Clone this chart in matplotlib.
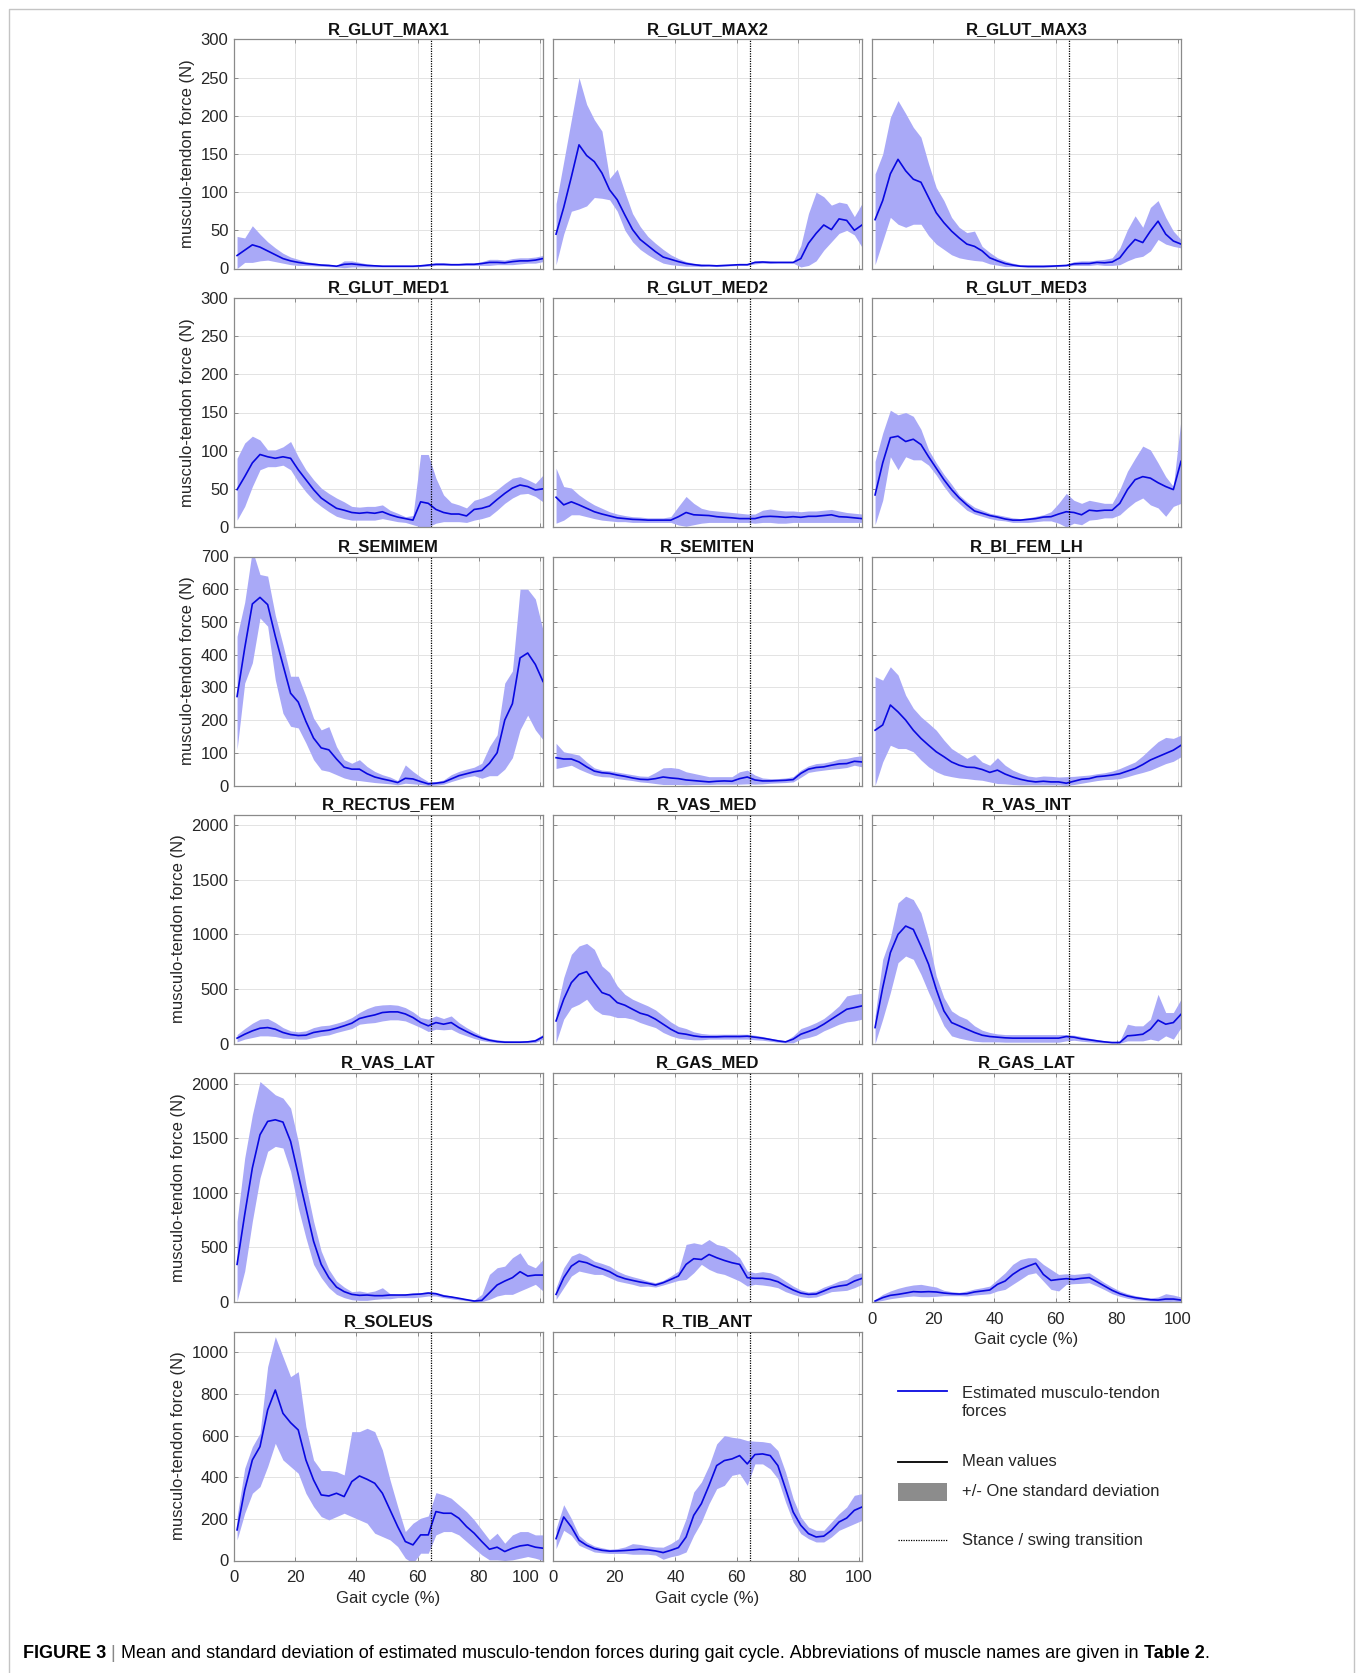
import matplotlib
matplotlib.use('Agg')
import matplotlib.pyplot as plt
from matplotlib.lines import Line2D
from matplotlib.patches import Rectangle

plt.rcParams['font.family'] = ['Liberation Sans', 'DejaVu Sans']

# gait cycle sample points (%)
X = [1, 3.5, 6, 8.5, 11, 13.5, 16, 18.5, 21, 23.5, 26, 28.5, 31, 33.5, 36, 38.5, 41,
     43.5, 46, 48.5, 51, 53.5, 56, 58.5, 61, 63.5, 66, 68.5, 71, 73.5, 76, 78.5, 81,
     83.5, 86, 88.5, 91, 93.5, 96, 98.5, 101]
STANCE_SWING = 64.5

# ---- data: mean, mean+SD, mean-SD (N) ----
GLUT_MAX1_M = [17, 24, 31, 28, 23, 18, 13, 10, 8, 6.5, 5.5, 4.5, 4, 3, 5.5, 6, 5, 4, 3.5, 3,
               3, 3, 3, 3, 3.5, 4.5, 5.5, 5.5, 5, 5, 5.5, 5.5, 6.5, 8, 8, 7.5, 9, 10, 10, 11, 13]
GLUT_MAX1_U = [42, 40, 56, 45, 35, 27, 20, 15, 12, 9, 7.5, 6, 5.5, 4, 10, 10, 8, 6, 5, 4,
               4, 4, 4, 4, 4.5, 6, 7, 7, 6.5, 6.5, 7, 7, 9, 12, 12, 11, 13, 14, 14, 15, 17]
GLUT_MAX1_L = [0, 8, 8, 10, 11, 9, 7, 5, 4, 4, 3.5, 3, 2.5, 2, 1, 2, 2, 2, 2, 2,
               2, 2, 2, 2, 2.5, 3, 4, 4, 4, 4, 4, 4, 4, 4, 5, 5, 5, 6, 7, 7, 9]

GLUT_MAX2_M = [45, 80, 120, 162, 148, 140, 125, 103, 90, 70, 51, 38, 30, 22, 15, 12, 9, 6.5, 5, 4,
               4, 3.5, 4, 4.5, 5, 5, 8, 8.5, 8, 8, 8, 8, 13, 33, 46, 57, 51, 65, 63, 50, 57]
GLUT_MAX2_U = [85, 140, 195, 250, 215, 195, 180, 118, 130, 100, 72, 55, 42, 33, 25, 18, 13, 9, 7, 5.5,
               5, 4.5, 5, 5.5, 6, 6, 10, 10, 9.5, 9, 9, 9, 30, 72, 100, 94, 83, 87, 85, 68, 85]
GLUT_MAX2_L = [5, 45, 75, 78, 82, 93, 92, 90, 75, 50, 35, 25, 18, 12, 7, 5, 4, 3, 3, 2.5,
               3, 2.5, 3, 3.5, 4, 4, 6, 7, 6.5, 7, 7, 7, 2, 4, 10, 24, 35, 46, 50, 44, 28]

GLUT_MAX3_M = [64, 89, 124, 143, 128, 117, 113, 93, 73, 60, 49, 40, 32, 29, 23, 14, 10, 6.5, 4.5, 3,
               2.6, 2.6, 2.6, 3, 3.5, 4, 6, 6.5, 6.5, 8, 7.5, 8.5, 14, 27, 38, 34, 49, 62, 45, 36, 32]
GLUT_MAX3_U = [124, 150, 198, 220, 203, 185, 172, 137, 106, 89, 67, 54, 47, 49, 29, 21, 14, 10, 7, 5,
               5, 5, 5, 5, 5, 5, 9, 10, 10, 11, 12, 14, 27, 51, 69, 54, 80, 89, 67, 49, 38]
GLUT_MAX3_L = [5, 36, 67, 58, 54, 58, 58, 43, 32, 25, 18, 14, 12, 10.5, 9.6, 6, 4.4, 2.5, 2.5, 2.5,
               2, 2, 2, 2, 2.5, 3, 4, 4, 4, 5, 4, 4, 5, 10, 14, 16, 23, 38, 32, 29, 27]

GLUT_MED1_M = [49, 66, 84, 95, 92, 90, 92, 90, 75, 62, 49, 38, 31, 24.5, 22, 19, 18, 19, 18, 20,
               16, 13, 11, 9, 33, 31, 23, 19, 17, 17, 14.5, 23, 24.5, 27.5, 36, 44, 51, 55, 53, 48.5, 50]
GLUT_MED1_U = [90, 110, 119, 114, 101, 101, 105, 112, 92, 75, 62, 51, 44, 38, 33, 27, 26, 27, 27, 29,
               22, 18, 13.5, 15, 95, 95, 64, 42, 32, 29, 25, 35, 38, 42, 49, 57, 64, 66, 62, 57, 68]
GLUT_MED1_L = [9, 27, 53, 75, 79, 79, 81, 75, 59, 46, 35, 27, 20, 14, 11, 9, 9, 9, 9, 11,
               9, 7, 6, 3, 0, 0, 5, 7, 7, 7, 6, 9, 11, 14, 22, 31, 38, 43, 44, 40, 33]

GLUT_MED2_M = [39, 29, 33, 29, 24.5, 20, 17, 14.5, 12, 11, 10, 9.6, 9, 9, 9, 9, 13.5, 19, 16, 15.5,
               15, 13.5, 12.7, 12, 11, 11, 11, 13.5, 14, 13.5, 12.7, 13.5, 12.7, 14, 14, 15, 16, 13.5, 13, 12, 11]
GLUT_MED2_U = [77, 53, 51, 42, 35, 29, 24.5, 20, 17, 15, 13.5, 13, 12, 12, 12, 13.5, 27, 40, 31, 24.5,
               22, 21, 20, 19, 18, 17, 17, 22, 23.6, 22, 21, 21, 20, 21, 21, 22, 23, 21, 19, 18, 17]
GLUT_MED2_L = [5, 9, 16, 16, 13.5, 11, 9, 8, 7, 7, 6, 6, 6, 6, 6, 6, 2.6, 1, 3, 5,
               6, 6, 6, 6, 6, 6, 5, 6, 6, 5, 5, 6, 6, 6, 6, 6, 6, 6, 6, 6, 6]

GLUT_MED3_M = [42, 84, 117, 119, 112, 115, 108, 92, 77, 62, 49, 38, 29, 21, 18, 15, 13, 10.5, 9, 9,
               10, 11, 13, 13.5, 17, 20, 19, 16, 22, 21, 22, 22, 31, 49, 62, 66, 64, 58, 53, 49, 86]
GLUT_MED3_U = [86, 123, 153, 147, 150, 145, 128, 101, 84, 69, 56, 42, 33, 26, 22, 18, 16, 14, 12, 11,
               12, 14, 16, 20, 31, 44, 35, 31, 35, 33, 31, 31, 49, 73, 90, 106, 101, 84, 66, 53, 141]
GLUT_MED3_L = [3, 35, 92, 75, 92, 88, 88, 81, 68, 53, 40, 31, 22, 17, 14, 11, 9, 8, 6, 6,
               6, 7, 8, 8, 5, 0, 5, 3, 9, 10, 12, 12, 16, 25, 33, 38, 29, 25, 14, 27, 31]

SEMIMEM_M = [272, 420, 555, 575, 553, 456, 369, 282, 255, 196, 145, 115, 109, 81, 56, 50, 50, 36, 26, 20,
             15, 9, 22, 20, 12, 5, 7, 10, 20, 30, 36, 42, 46, 68, 100, 200, 250, 390, 405, 370, 318]
SEMIMEM_U = [456, 560, 720, 645, 640, 520, 430, 334, 334, 273, 206, 170, 180, 119, 79, 68, 79, 58, 43, 33,
             26, 15, 63, 43, 26, 12, 12, 17, 33, 43, 50, 56, 68, 119, 155, 313, 350, 600, 600, 570, 475]
SEMIMEM_L = [110, 313, 375, 512, 487, 323, 221, 181, 176, 130, 79, 48, 43, 33, 23, 17, 15, 12, 9, 7,
             5, 2, 7, 5, 3, 0, 1, 4, 12, 19, 26, 30, 22, 30, 30, 50, 85, 170, 215, 170, 140]

SEMITEN_M = [85, 81, 81, 72, 57, 44, 39, 37, 32, 28, 23, 19, 18, 21, 26, 23, 21, 17, 15, 13,
             11, 13, 14, 13, 21, 26, 17, 14, 14, 15, 16, 18, 37, 50, 55, 57, 62, 66, 67, 74, 72]
SEMITEN_U = [129, 103, 98, 93, 72, 54, 47, 45, 41, 37, 33, 29, 28, 40, 54, 55, 52, 42, 37, 32,
             27, 27, 27, 27, 42, 47, 32, 23, 21, 21, 23, 27, 47, 60, 67, 69, 74, 81, 83, 88, 91]
SEMITEN_L = [52, 57, 62, 50, 40, 31, 27, 26, 21, 18, 15, 11, 9, 6, 3, 3, 3, 2, 3, 3,
             3, 4, 4, 4, 4, 5, 4, 5, 7, 8, 9, 11, 25, 40, 44, 47, 50, 52, 55, 62, 57]

BI_FEM_LH_M = [169, 185, 246, 225, 200, 169, 144, 123, 103, 88, 72, 62, 56, 55, 49, 40, 47, 35, 26, 19,
               14, 11, 13, 11, 11, 7, 13, 19, 21, 27, 29, 32, 36, 44, 52, 64, 78, 88, 98, 108, 123]
BI_FEM_LH_U = [333, 322, 363, 338, 276, 236, 210, 190, 169, 139, 113, 98, 83, 95, 72, 62, 85, 62, 47, 37,
               29, 26, 29, 28, 26, 27, 28, 30, 32, 36, 39, 44, 52, 62, 72, 91, 113, 134, 147, 144, 154]
BI_FEM_LH_L = [0, 72, 123, 113, 113, 103, 78, 57, 42, 32, 27, 23, 21, 18, 16, 11, 6, 5, 3, 2,
               2, 2, 2, 2, 2, 0, 3, 7, 11, 15, 18, 19, 21, 27, 34, 40, 47, 57, 67, 74, 88]

RECTUS_FEM_M = [49, 85, 116, 140, 146, 131, 101, 82, 73, 76, 101, 113, 122, 140, 162, 186, 229, 247, 262, 284,
                290, 290, 271, 238, 192, 162, 192, 177, 192, 146, 110, 76, 49, 30, 18, 12, 12, 12, 15, 24, 61]
RECTUS_FEM_U = [82, 137, 186, 223, 229, 192, 146, 116, 107, 116, 146, 162, 168, 186, 207, 238, 284, 320, 345, 354,
                357, 351, 329, 290, 238, 223, 253, 229, 253, 192, 146, 107, 70, 46, 34, 27, 24, 24, 24, 40, 85]
RECTUS_FEM_L = [15, 40, 55, 70, 70, 64, 49, 46, 40, 40, 55, 70, 79, 101, 119, 137, 177, 186, 192, 207,
                217, 217, 207, 177, 146, 110, 131, 125, 131, 95, 70, 46, 27, 15, 9, 6, 6, 6, 6, 9, 40]

VAS_MED_M = [207, 406, 558, 634, 659, 558, 467, 442, 375, 351, 314, 278, 259, 223, 177, 131, 95, 85, 70, 61,
             61, 61, 64, 64, 64, 67, 58, 49, 37, 24, 15, 40, 85, 110, 137, 177, 223, 268, 314, 329, 345]
VAS_MED_U = [284, 604, 817, 894, 918, 863, 711, 650, 528, 451, 406, 375, 345, 308, 253, 198, 156, 137, 107, 92,
             85, 85, 85, 85, 85, 85, 76, 64, 49, 37, 24, 70, 137, 162, 192, 229, 284, 345, 436, 451, 461]
VAS_MED_L = [10, 223, 329, 360, 406, 314, 268, 259, 238, 238, 223, 192, 168, 146, 101, 70, 49, 40, 34, 34,
             40, 40, 40, 40, 40, 40, 34, 30, 21, 12, 6, 6, 40, 55, 76, 116, 146, 177, 198, 207, 223]

VAS_INT_M = [146, 512, 833, 1000, 1077, 1046, 894, 726, 497, 299, 192, 162, 131, 101, 76, 64, 58, 52, 49, 49,
             49, 49, 49, 49, 49, 64, 58, 43, 34, 24, 15, 9, 9, 70, 76, 85, 131, 214, 177, 192, 268]
VAS_INT_U = [253, 772, 970, 1290, 1351, 1320, 1198, 955, 619, 421, 299, 253, 223, 162, 122, 101, 88, 82, 82, 82,
             82, 82, 82, 82, 82, 82, 76, 64, 49, 37, 24, 15, 24, 177, 162, 162, 223, 451, 284, 284, 406]
VAS_INT_L = [0, 223, 467, 741, 802, 772, 634, 467, 314, 162, 70, 49, 34, 21, 15, 15, 15, 12, 12, 12,
             12, 12, 12, 12, 12, 24, 30, 21, 15, 9, 6, 3, 3, 24, 24, 24, 40, 24, 70, 40, 146]

VAS_LAT_M = [345, 802, 1229, 1534, 1656, 1671, 1650, 1473, 1168, 863, 558, 345, 223, 137, 95, 70, 61, 64, 58, 58,
             64, 64, 64, 70, 73, 82, 76, 55, 46, 34, 21, 9, 15, 85, 156, 192, 223, 278, 238, 247, 247]
VAS_LAT_U = [741, 1321, 1717, 2022, 1961, 1900, 1870, 1778, 1473, 1077, 741, 467, 299, 192, 137, 95, 101, 88, 101, 131,
             76, 70, 76, 82, 85, 95, 88, 70, 55, 40, 27, 18, 70, 253, 314, 329, 406, 451, 345, 314, 390]
VAS_LAT_L = [6, 284, 741, 1138, 1382, 1427, 1412, 1199, 863, 589, 345, 223, 131, 70, 40, 21, 15, 15, 24, 30,
             30, 40, 40, 40, 46, 55, 55, 40, 30, 21, 12, 3, 3, 24, 55, 70, 70, 101, 131, 162, 101]

GAS_MED_M = [70, 223, 329, 375, 360, 329, 305, 278, 238, 214, 198, 183, 171, 156, 177, 207, 238, 345, 397, 390,
             436, 406, 381, 360, 345, 223, 217, 217, 207, 186, 146, 110, 82, 70, 73, 101, 131, 146, 156, 192, 217]
GAS_MED_U = [131, 314, 421, 451, 421, 375, 354, 329, 284, 253, 232, 214, 192, 177, 198, 238, 284, 528, 543, 528,
             573, 528, 512, 467, 406, 284, 268, 278, 268, 238, 192, 146, 110, 92, 101, 137, 162, 192, 207, 253, 268]
GAS_MED_L = [24, 131, 238, 284, 268, 253, 253, 223, 192, 177, 162, 143, 146, 137, 156, 177, 198, 207, 268, 345,
             299, 268, 253, 223, 192, 146, 162, 156, 146, 131, 95, 70, 49, 40, 46, 70, 95, 101, 107, 131, 162]

GAS_LAT_M = [9, 40, 61, 70, 82, 95, 92, 95, 92, 82, 76, 73, 76, 92, 101, 110, 162, 192, 253, 299,
             329, 355, 253, 198, 207, 214, 207, 217, 223, 186, 146, 107, 76, 55, 40, 30, 21, 18, 27, 27, 18]
GAS_LAT_U = [24, 70, 101, 125, 143, 156, 162, 149, 137, 107, 95, 88, 101, 119, 131, 146, 207, 268, 345, 390,
             406, 406, 345, 299, 253, 259, 253, 259, 268, 223, 177, 137, 101, 76, 58, 46, 37, 46, 76, 64, 46]
GAS_LAT_L = [3, 15, 30, 40, 49, 55, 49, 49, 52, 58, 58, 58, 55, 64, 70, 76, 101, 116, 162, 207,
             253, 268, 192, 116, 101, 162, 168, 171, 177, 146, 113, 76, 52, 34, 21, 15, 9, 6, 3, 6, 3]

SOLEUS_M = [147, 339, 483, 547, 723, 819, 707, 662, 627, 483, 387, 315, 310, 323, 307, 379, 406, 390, 371, 323,
            243, 163, 91, 75, 123, 123, 235, 227, 227, 203, 163, 131, 91, 54, 64, 43, 59, 70, 75, 64, 59]
SOLEUS_U = [211, 443, 547, 611, 931, 1075, 979, 883, 907, 643, 483, 432, 432, 427, 411, 619, 619, 635, 619, 531,
            387, 259, 139, 179, 203, 214, 326, 315, 299, 267, 235, 195, 147, 99, 131, 83, 123, 139, 139, 123, 123]
SOLEUS_L = [99, 227, 323, 355, 451, 563, 483, 451, 419, 323, 259, 211, 195, 211, 227, 211, 195, 179, 131, 115,
            99, 67, 11, -13, 35, 35, 123, 139, 139, 123, 91, 59, 27, 3, 3, 0, 3, 11, 19, 11, 0]

TIB_ANT_M = [105, 209, 161, 97, 73, 57, 49, 45, 46, 48, 51, 54, 51, 46, 38, 49, 62, 113, 217, 273,
             361, 456, 480, 488, 504, 464, 509, 512, 504, 456, 345, 233, 169, 129, 113, 117, 145, 185, 204, 241, 257]
TIB_ANT_U = [153, 268, 201, 121, 89, 70, 61, 54, 57, 65, 81, 77, 70, 65, 64, 81, 105, 201, 329, 377,
             456, 560, 600, 592, 587, 576, 573, 571, 565, 528, 425, 297, 209, 161, 145, 145, 185, 225, 257, 313, 321]
TIB_ANT_L = [57, 145, 121, 73, 57, 41, 37, 34, 34, 34, 30, 30, 30, 26, 6, 18, 26, 41, 121, 185,
             273, 345, 361, 409, 417, 361, 464, 464, 440, 393, 281, 185, 129, 105, 89, 89, 113, 145, 161, 177, 193]

PANELS = [
    ('R_GLUT_MAX1', GLUT_MAX1_M, GLUT_MAX1_U, GLUT_MAX1_L),
    ('R_GLUT_MAX2', GLUT_MAX2_M, GLUT_MAX2_U, GLUT_MAX2_L),
    ('R_GLUT_MAX3', GLUT_MAX3_M, GLUT_MAX3_U, GLUT_MAX3_L),
    ('R_GLUT_MED1', GLUT_MED1_M, GLUT_MED1_U, GLUT_MED1_L),
    ('R_GLUT_MED2', GLUT_MED2_M, GLUT_MED2_U, GLUT_MED2_L),
    ('R_GLUT_MED3', GLUT_MED3_M, GLUT_MED3_U, GLUT_MED3_L),
    ('R_SEMIMEM', SEMIMEM_M, SEMIMEM_U, SEMIMEM_L),
    ('R_SEMITEN', SEMITEN_M, SEMITEN_U, SEMITEN_L),
    ('R_BI_FEM_LH', BI_FEM_LH_M, BI_FEM_LH_U, BI_FEM_LH_L),
    ('R_RECTUS_FEM', RECTUS_FEM_M, RECTUS_FEM_U, RECTUS_FEM_L),
    ('R_VAS_MED', VAS_MED_M, VAS_MED_U, VAS_MED_L),
    ('R_VAS_INT', VAS_INT_M, VAS_INT_U, VAS_INT_L),
    ('R_VAS_LAT', VAS_LAT_M, VAS_LAT_U, VAS_LAT_L),
    ('R_GAS_MED', GAS_MED_M, GAS_MED_U, GAS_MED_L),
    ('R_GAS_LAT', GAS_LAT_M, GAS_LAT_U, GAS_LAT_L),
    ('R_SOLEUS', SOLEUS_M, SOLEUS_U, SOLEUS_L),
    ('R_TIB_ANT', TIB_ANT_M, TIB_ANT_U, TIB_ANT_L),
]

ROW_YMAX = [300, 300, 700, 2100, 2100, 1100]
ROW_YTICKS = [list(range(0, 301, 50)), list(range(0, 301, 50)), list(range(0, 701, 100)),
              list(range(0, 2001, 500)), list(range(0, 2001, 500)), list(range(0, 1001, 200))]
XTICKS = [0, 20, 40, 60, 80, 100]
BOTTOM_PANELS = ['R_GAS_LAT', 'R_SOLEUS', 'R_TIB_ANT']

# style
MEAN_COLOR = '#0808e0'
BAND_COLOR = '#a9a9f7'
GRID_COLOR = '#e3e3e3'
SPINE_COLOR = '#8a8a8a'
TEXT_COLOR = '#262626'
FS = 12

W, H = 1363, 1673
COL_LEFT = [234, 553, 872]
ROW_TOP = [39.5, 298, 556.5, 814.5, 1073, 1331.5]
AX_W, AX_H = 309, 229

fig = plt.figure(figsize=(W / 100, H / 100), dpi=100)

# overlay in pixel coordinates for frame, legend and caption
ov = fig.add_axes([0, 0, 1, 1])
ov.set_xlim(0, W)
ov.set_ylim(H, 0)
ov.set_axis_off()
ov.patch.set_visible(False)

for k, (name, m, u, lo) in enumerate(PANELS):
    row, col = divmod(k, 3)
    left, top = COL_LEFT[col], ROW_TOP[row]
    ax = fig.add_axes([left / W, 1 - (top + AX_H) / H, AX_W / W, AX_H / H])
    ax.fill_between(X, lo, u, color=BAND_COLOR, linewidth=0, zorder=2)
    ax.plot(X, m, color=MEAN_COLOR, lw=1.2, zorder=3)
    ax.axvline(STANCE_SWING, color='black', ls=(0, (1, 1)), lw=0.9, zorder=4)
    ax.set_xlim(0, 101)
    ax.set_ylim(0, ROW_YMAX[row])
    ax.set_xticks(XTICKS)
    ax.set_yticks(ROW_YTICKS[row])
    ax.grid(True, color=GRID_COLOR, lw=0.7, zorder=0)
    ax.set_axisbelow(True)
    ax.tick_params(direction='in', top=True, right=True, length=3, width=0.7,
                   colors=SPINE_COLOR, labelcolor=TEXT_COLOR, labelsize=FS)
    ax.tick_params(axis='y', pad=4)
    ax.tick_params(axis='x', pad=7)
    for sp in ax.spines.values():
        sp.set_color(SPINE_COLOR)
        sp.set_linewidth(0.9)
    ax.set_title(name, fontsize=FS, fontweight='bold', pad=4, color='#111111')
    if col == 0:
        ax.set_ylabel('musculo-tendon force (N)', fontsize=FS, color=TEXT_COLOR, labelpad=4)
    else:
        ax.tick_params(labelleft=False)
    if name in BOTTOM_PANELS:
        ax.set_xlabel('Gait cycle (%)', fontsize=FS, color=TEXT_COLOR, labelpad=4)
        if name == 'R_SOLEUS':
            # keep "100" clear of the neighbouring panel's "0"
            ax.get_xticklabels()[-1].set_horizontalalignment('right')
    else:
        ax.tick_params(labelbottom=False)

# legend (bottom right slot)
LEG_X0, LEG_X1, LEG_TX = 898, 947, 962
ov.add_line(Line2D([LEG_X0, LEG_X1], [1391, 1391], color=MEAN_COLOR, lw=1.3))
ov.text(LEG_TX, 1402, 'Estimated musculo-tendon\nforces', fontsize=FS, va='center',
        ha='left', linespacing=1.25, color=TEXT_COLOR)
ov.add_line(Line2D([LEG_X0, LEG_X1], [1462, 1462], color='black', lw=1.3))
ov.text(LEG_TX, 1462, 'Mean values', fontsize=FS, va='center', color=TEXT_COLOR)
ov.add_patch(Rectangle((LEG_X0, 1483), LEG_X1 - LEG_X0, 18, color='#8c8c8c', lw=0))
ov.text(LEG_TX, 1492, '+/- One standard deviation', fontsize=FS, va='center', color=TEXT_COLOR)
ov.add_line(Line2D([LEG_X0, LEG_X1], [1540, 1540], color='black', lw=0.9, ls=(0, (1, 1))))
ov.text(LEG_TX, 1540, 'Stance / swing transition', fontsize=FS, va='center', color=TEXT_COLOR)

# outer frame
FRAME = '#c4c4c4'
ov.add_line(Line2D([8.5, 8.5, 1353.5, 1353.5], [H, 8.5, 8.5, H], color=FRAME, lw=1))

# caption, fitted to its width in the reference
CAP_FAMILY = ['Liberation Sans Narrow', 'DejaVu Sans Condensed', 'Liberation Sans']
pieces = [('FIGURE 3 ', 'bold', 'black'), ('| ', 'normal', '#888888'),
          ('Mean and standard deviation of estimated musculo-tendon forces during gait cycle. '
           'Abbreviations of muscle names are given in ', 'normal', 'black'),
          ('Table 2', 'bold', 'black'), ('.', 'normal', 'black')]
r = fig.canvas.get_renderer()
size0 = 12
total = 0
for s, wgt, c in pieces:
    t = ov.text(0, 0, s.replace(' ', '\u00a0'), fontsize=size0, fontweight=wgt, family=CAP_FAMILY)
    total += t.get_window_extent(renderer=r).width
    t.remove()
size = size0 * (1214 - 23) / total
x = 23
for s, wgt, c in pieces:
    t = ov.text(x, 1653, s.replace(' ', '\u00a0'), fontsize=size, fontweight=wgt,
                family=CAP_FAMILY, va='center', ha='left', color=c)
    x += t.get_window_extent(renderer=r).width

fig.savefig('out.png', dpi=100)
